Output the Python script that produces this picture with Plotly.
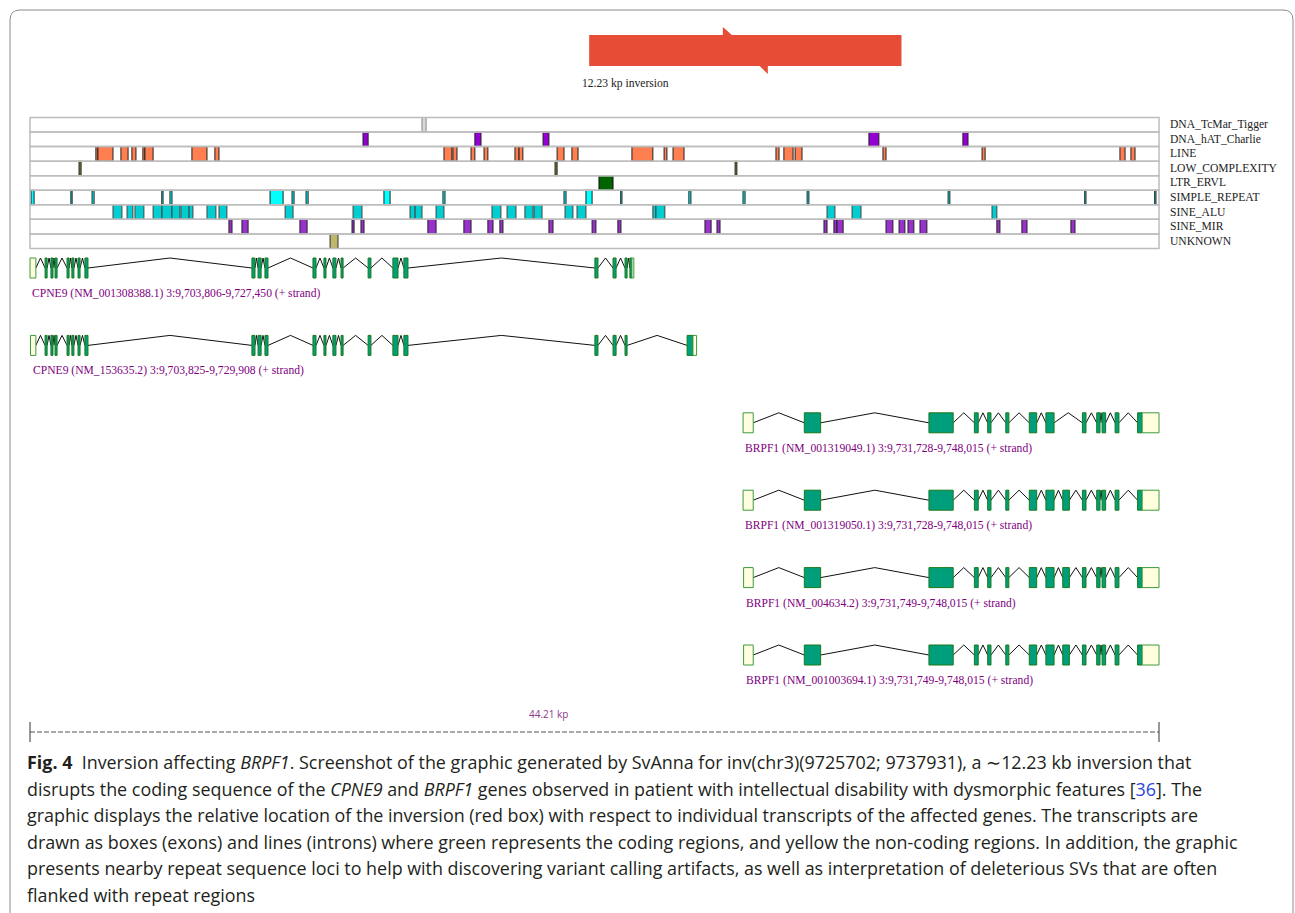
import plotly.graph_objects as go

# ---------------- data ----------------
VIEW_START_BP = 9703806
VIEW_END_BP = 9748015
INV_START_BP = 9725702
INV_END_BP = 9737931
inversion_label = "12.23 kp inversion"
scale_label = "44.21 kp"

repeat_families = ["DNA_TcMar_Tigger", "DNA_hAT_Charlie", "LINE", "LOW_COMPLEXITY",
                   "LTR_ERVL", "SIMPLE_REPEAT", "SINE_ALU", "SINE_MIR", "UNKNOWN"]
repeat_fill = ["#d9d9d9", "#9400d3", "#ff7f50", "#6b8e23", "#006400",
               "#00ffff", "#00ced1", "#9932cc", "#bdb76b"]
repeat_line = ["#888888", "#222222", "#222222", "#222222", "#111111",
               "#222222", "#444444", "#222222", "#333333"]

# repeat loci, kb offset from view start (chr3:9,703,806)
tcmar_tigger = [(15.35, 15.51)]
hat_charlie = [(13.04, 13.24), (17.42, 17.66), (20.09, 20.32), (32.85, 33.24), (36.53, 36.73)]
line_rep = [(2.58, 2.66), (2.66, 3.25), (3.56, 3.84), (3.99, 4.15), (4.42, 4.50), (4.50, 4.82),
            (6.34, 6.93), (7.24, 7.40), (16.21, 16.52), (16.56, 16.72), (17.27, 17.42),
            (17.78, 17.93), (18.99, 19.15), (19.15, 19.30), (20.64, 20.91), (21.22, 21.46),
            (23.57, 24.39), (24.83, 24.94), (25.18, 25.61), (29.21, 29.33), (29.52, 29.88),
            (29.96, 30.23), (33.40, 33.52), (37.28, 37.40), (42.68, 42.88), (43.11, 43.27)]
low_complexity = [(1.92, 2.00), (20.56, 20.64), (27.61, 27.68)]
ltr_ervl = [(22.28, 22.83)]
simple_repeat = [(0.04, 0.16), (1.60, 1.65), (2.43, 2.51), (5.16, 5.21), (5.48, 5.56),
                 (9.40, 9.91), (10.26, 10.34), (10.81, 10.89), (13.86, 14.10), (16.17, 16.25),
                 (20.91, 20.99), (21.77, 22.01), (23.13, 23.18), (25.80, 25.88), (27.92, 28.00),
                 (30.43, 30.50), (35.95, 36.02), (41.30, 41.35), (44.04, 44.09)]
sine_alu = [(3.25, 3.60), (3.80, 4.03), (4.11, 4.46), (4.82, 5.17), (5.17, 5.56), (5.56, 5.87),
            (5.91, 6.23), (6.23, 6.38), (6.93, 7.28), (7.40, 7.71), (9.99, 10.30), (12.65, 13.00),
            (14.88, 15.08), (15.08, 15.35), (15.90, 16.21), (18.09, 18.44), (18.68, 19.03),
            (19.38, 19.70), (19.74, 20.05), (20.95, 21.26), (21.42, 21.77), (24.39, 24.51),
            (24.51, 24.86), (31.21, 31.52), (32.19, 32.54), (37.67, 37.86)]
sine_mir = [(7.79, 7.91), (8.30, 8.54), (10.57, 10.85), (12.61, 12.69), (12.96, 13.08),
            (15.58, 15.90), (16.99, 17.27), (17.93, 18.13), (18.40, 18.52), (20.32, 20.48),
            (22.01, 22.16), (23.02, 23.14), (26.43, 26.67), (26.90, 27.02), (31.09, 31.21),
            (31.48, 31.60), (31.60, 31.84), (33.52, 33.79), (34.03, 34.26), (34.38, 34.61),
            (34.85, 35.12), (37.86, 37.98), (38.84, 39.04), (40.76, 40.92)]
unknown_rep = [(11.75, 12.06)]
repeat_loci = [tcmar_tigger, hat_charlie, line_rep, low_complexity, ltr_ervl,
               simple_repeat, sine_alu, sine_mir, unknown_rep]

# transcripts: exons (kb offset), CDS span (kb offset), label
cpne9_a_exons = [(0.00, 0.23), (0.59, 0.67), (0.82, 0.90), (0.98, 1.06), (1.45, 1.53), (1.64, 1.72),
                 (1.88, 1.96), (2.15, 2.27), (8.69, 8.81), (8.93, 9.05), (9.20, 9.32), (11.08, 11.20),
                 (11.51, 11.59), (11.86, 11.98), (12.18, 12.26), (13.24, 13.35), (14.21, 14.41),
                 (14.64, 14.80), (22.12, 22.24), (22.83, 22.95), (23.30, 23.38), (23.49, 23.644)]
cpne9_a_cds = (0.59, 23.57)
cpne9_b_exons = [(0.02, 0.23), (0.59, 0.67), (0.82, 0.90), (0.98, 1.06), (1.45, 1.53), (1.64, 1.72),
                 (1.88, 1.96), (2.15, 2.27), (8.69, 8.81), (8.93, 9.05), (9.20, 9.32), (11.08, 11.20),
                 (11.51, 11.59), (11.86, 11.98), (12.18, 12.26), (13.24, 13.35), (14.21, 14.41),
                 (14.64, 14.80), (22.12, 22.24), (22.83, 22.95), (23.30, 23.38), (25.73, 26.102)]
cpne9_b_cds = (0.59, 25.96)
brpf1_a_exons = [(27.922, 28.32), (30.32, 30.96), (35.20, 36.15), (36.98, 37.13), (37.50, 37.63),
                 (38.21, 38.33), (39.13, 39.42), (39.78, 40.10), (41.21, 41.35), (41.77, 41.90),
                 (41.98, 42.12), (42.49, 42.64), (43.37, 44.209)]
brpf1_b_exons = [(27.922, 28.32), (30.32, 30.96), (35.20, 36.15), (36.98, 37.13), (37.50, 37.63),
                 (38.21, 38.33), (39.13, 39.42), (39.78, 40.10), (40.44, 40.70), (41.21, 41.35),
                 (41.77, 41.90), (41.98, 42.12), (42.49, 42.64), (43.37, 44.209)]
brpf1_c_exons = [(27.943, 28.32), (30.32, 30.96), (35.20, 36.15), (36.98, 37.13), (37.50, 37.63),
                 (38.21, 38.33), (39.13, 39.42), (39.78, 40.10), (40.44, 40.70), (41.21, 41.35),
                 (41.77, 41.90), (41.98, 42.12), (42.49, 42.64), (43.37, 44.209)]
brpf1_cds = (30.32, 43.55)
transcript_exons = [cpne9_a_exons, cpne9_b_exons, brpf1_a_exons, brpf1_b_exons, brpf1_c_exons, brpf1_c_exons]
transcript_cds = [cpne9_a_cds, cpne9_b_cds, brpf1_cds, brpf1_cds, brpf1_cds, brpf1_cds]
transcript_labels = [
    "CPNE9 (NM_001308388.1) 3:9,703,806-9,727,450 (+ strand)",
    "CPNE9 (NM_153635.2) 3:9,703,825-9,729,908 (+ strand)",
    "BRPF1 (NM_001319049.1) 3:9,731,728-9,748,015 (+ strand)",
    "BRPF1 (NM_001319050.1) 3:9,731,728-9,748,015 (+ strand)",
    "BRPF1 (NM_004634.2) 3:9,731,749-9,748,015 (+ strand)",
    "BRPF1 (NM_001003694.1) 3:9,731,749-9,748,015 (+ strand)",
]

caption_lines = [
    "<b>Fig. 4</b>&nbsp; Inversion affecting <i>BRPF1</i>. Screenshot of the graphic generated by SvAnna for inv(chr3)(9725702; 9737931), a ∼12.23 kb inversion that",
    "disrupts the coding sequence of the <i>CPNE9</i> and <i>BRPF1</i> genes observed in patient with intellectual disability with dysmorphic features [<span style='color:#2b46d9'>36</span>]. The",
    "graphic displays the relative location of the inversion (red box) with respect to individual transcripts of the affected genes. The transcripts are",
    "drawn as boxes (exons) and lines (introns) where green represents the coding regions, and yellow the non-coding regions. In addition, the graphic",
    "presents nearby repeat sequence loci to help with discovering variant calling artifacts, as well as interpretation of deleterious SVs that are often",
    "flanked with repeat regions",
]

# ---------------- layout constants (page pixel coordinates) ----------------
W, H = 1295, 913
PX_L, PX_R = 30, 1159
SPAN_KB = (VIEW_END_BP - VIEW_START_BP) / 1000.0
SCALE = (PX_R - PX_L) / SPAN_KB
X_RANGE = [-PX_L / SCALE, (W - PX_L) / SCALE]

TRACK_TOP, ROW_H = 117.5, 14.55
TX_TOP_CENTER, TX_STEP, EXON_HALF = 268.0, 77.4, 10.0
INV_Y0, INV_Y1, NOTCH = 35, 66, 8
SCALE_Y = 732

SERIF = "Liberation Serif"
SERIF_SIZE = 11.6
PURPLE = "#800080"
CODING_FILL, CODING_LINE = "#009e7a", "#1b7a1b"
UTR_FILL, UTR_LINE = "#ffffe0", "#3c9a3c"

shapes, annotations = [], []
fig = go.Figure()

def kb(bp):
    return (bp - VIEW_START_BP) / 1000.0

def px2paper_x(px):
    return px / W

def px2paper_y(py):
    return 1 - py / H

# frame
fx0, fx1, fy0, r = 10, 1293, 10, 10
frame = (f"M {px2paper_x(fx0)},{px2paper_y(H)} L {px2paper_x(fx0)},{px2paper_y(fy0 + r)} "
         f"Q {px2paper_x(fx0)},{px2paper_y(fy0)} {px2paper_x(fx0 + r)},{px2paper_y(fy0)} "
         f"L {px2paper_x(fx1 - r)},{px2paper_y(fy0)} Q {px2paper_x(fx1)},{px2paper_y(fy0)} "
         f"{px2paper_x(fx1)},{px2paper_y(fy0 + r)} L {px2paper_x(fx1)},{px2paper_y(H)}")
shapes.append(dict(type="path", xref="paper", yref="paper", path=frame,
                   line=dict(color="#8c8c8c", width=1)))

# inversion box with notches
ix0, ix1 = kb(INV_START_BP), kb(INV_END_BP)
iw = ix1 - ix0
xa, xb = ix0 + 0.428 * iw, ix0 + 0.457 * iw
xc, xd = ix0 + 0.546 * iw, ix0 + 0.572 * iw
inv_path = (f"M {ix0},{INV_Y0} L {xa},{INV_Y0} L {xa},{INV_Y0 - NOTCH} L {xb},{INV_Y0} "
            f"L {ix1},{INV_Y0} L {ix1},{INV_Y1} L {xd},{INV_Y1} L {xd},{INV_Y1 + NOTCH} "
            f"L {xc},{INV_Y1} L {ix0},{INV_Y1} Z")
shapes.append(dict(type="path", xref="x", yref="y", path=inv_path,
                   fillcolor="#e74c37", line=dict(width=0)))
annotations.append(dict(x=ix0, y=83, xref="x", yref="y", text=inversion_label, showarrow=False,
                        xanchor="left", yanchor="middle", xshift=-9,
                        font=dict(family=SERIF, size=SERIF_SIZE, color="#222222")))

# repeat tracks
for i, (fam, loci) in enumerate(zip(repeat_families, repeat_loci)):
    y0 = TRACK_TOP + i * ROW_H
    for (s, e) in loci:
        shapes.append(dict(type="rect", xref="x", yref="y", x0=s, x1=e, y0=y0, y1=y0 + ROW_H,
                           fillcolor=repeat_fill[i], line=dict(color=repeat_line[i], width=1)))
for i, fam in enumerate(repeat_families):
    y0 = TRACK_TOP + i * ROW_H
    shapes.append(dict(type="rect", xref="x", yref="y", x0=0, x1=SPAN_KB, y0=y0, y1=y0 + ROW_H,
                       fillcolor="rgba(0,0,0,0)", line=dict(color="#bdbdbd", width=1.5)))
    annotations.append(dict(x=SPAN_KB, y=y0 + ROW_H / 2, xref="x", yref="y", text=fam,
                            showarrow=False, xanchor="left", yanchor="middle", xshift=9,
                            font=dict(family=SERIF, size=SERIF_SIZE, color="#222222")))

# transcripts
for t, (exons, cds, label) in enumerate(zip(transcript_exons, transcript_cds, transcript_labels)):
    yc = TX_TOP_CENTER + t * TX_STEP
    xs, ys = [], []
    for (s1, e1), (s2, e2) in zip(exons[:-1], exons[1:]):
        xs += [e1, (e1 + s2) / 2, s2, None]
        ys += [yc, yc - EXON_HALF, yc, None]
    fig.add_trace(go.Scatter(x=xs, y=ys, mode="lines", line=dict(color="#111111", width=1),
                             hoverinfo="skip", showlegend=False))
    cs, ce = cds
    for (s, e) in exons:
        parts = [(s, min(e, cs), False), (max(s, cs), min(e, ce), True), (max(s, ce), e, False)]
        for (a, b, coding) in parts:
            if b - a <= 1e-9:
                continue
            shapes.append(dict(type="rect", xref="x", yref="y", x0=a, x1=b,
                               y0=yc - EXON_HALF, y1=yc + EXON_HALF,
                               fillcolor=CODING_FILL if coding else UTR_FILL,
                               line=dict(color=CODING_LINE if coding else UTR_LINE, width=1)))
    annotations.append(dict(x=exons[0][0], y=yc + 25.5, xref="x", yref="y", text=label,
                            showarrow=False, xanchor="left", yanchor="middle",
                            font=dict(family=SERIF, size=SERIF_SIZE, color=PURPLE)))

# scale bar
shapes.append(dict(type="line", xref="x", yref="y", x0=0, x1=SPAN_KB, y0=SCALE_Y, y1=SCALE_Y,
                   line=dict(color="#555555", width=1, dash="5px,2px")))
for xe in (0, SPAN_KB):
    shapes.append(dict(type="line", xref="x", yref="y", x0=xe, x1=xe, y0=SCALE_Y - 10, y1=SCALE_Y + 10,
                       line=dict(color="#333333", width=1)))
annotations.append(dict(x=0.44 * SPAN_KB, y=714, xref="x", yref="y", text=scale_label,
                        showarrow=False, xanchor="left", yanchor="middle",
                        font=dict(family="Open Sans", size=10, color="#8a3a8a")))

# caption
for k, line in enumerate(caption_lines):
    annotations.append(dict(x=px2paper_x(25), y=762 + k * 26.6, xref="paper", yref="y", text=line,
                            showarrow=False, xanchor="left", yanchor="middle",
                            font=dict(family="Open Sans", size=17.9, color="#231f20")))

fig.update_layout(
    width=W, height=H, margin=dict(l=0, r=0, t=0, b=0),
    paper_bgcolor="white", plot_bgcolor="white",
    xaxis=dict(range=X_RANGE, visible=False, fixedrange=True),
    yaxis=dict(range=[H, 0], visible=False, fixedrange=True),
    shapes=shapes, annotations=annotations, showlegend=False,
)
fig.write_html("out.html", config={"displayModeBar": False, "staticPlot": True},
               post_script="document.body.style.margin='0';document.documentElement.style.overflow='hidden';document.body.style.overflow='hidden';")
